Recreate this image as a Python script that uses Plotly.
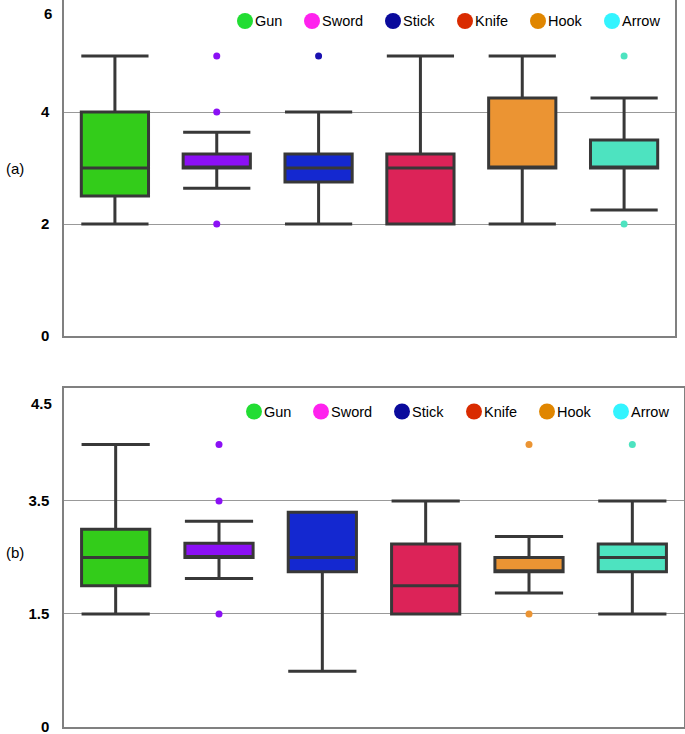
import plotly.graph_objects as go

categories = ["Gun", "Sword", "Stick", "Knife", "Hook", "Arrow"]
box_colors = ["#33CC1A", "#8B10F5", "#1428D0", "#DC2358", "#EB9433", "#4DE3C0"]
point_colors = ["#33CC1A", "#8B10F5", "#1A10B0", "#DC2358", "#EB9433", "#4DE3C0"]
legend_colors = ["#22DD33", "#FF22EE", "#0A0A9C", "#D92B00", "#E08600", "#33F4FF"]

# panel (a)
a_lower = [2.0, 2.64, 2.0, 2.0, 2.0, 2.25]
a_q1 = [2.5, 3.0, 2.75, 2.0, 3.0, 3.0]
a_median = [3.0, 3.0, 3.0, 3.0, 3.0, 3.0]
a_q3 = [4.0, 3.25, 3.25, 3.25, 4.25, 3.5]
a_upper = [5.0, 3.64, 4.0, 5.0, 5.0, 4.25]
a_outliers = [[], [5.0, 4.0, 2.0], [5.0], [], [], [5.0, 2.0]]

# panel (b)
b_lower = [1.5, 1.97, 0.74, 1.5, 1.78, 1.5]
b_q1 = [1.875, 2.25, 2.06, 1.5, 2.06, 2.06]
b_median = [2.25, 2.25, 2.25, 1.875, 2.06, 2.25]
b_q3 = [2.625, 2.44, 2.85, 2.43, 2.25, 2.43]
b_upper = [3.75, 2.73, 2.85, 3.0, 2.53, 3.0]
b_outliers = [[], [3.75, 3.0, 1.5], [], [], [3.75, 1.5], [3.75]]

a_tickvals = [0, 2, 4]
a_ticktext = ["0", "2", "4"]
a_top = 6
b_tickvals = [0, 1.5, 3]
b_ticktext = ["0", "1.5", "3.5"]
b_top = 4.5

W, H = 685, 734
ML, MR, MT, MB = 64, 1, 0, 7
PW, PH = W - ML - MR, H - MT - MB

fig = go.Figure()

panels = [
    ("x", "y", a_lower, a_q1, a_median, a_q3, a_upper, a_outliers),
    ("x2", "y2", b_lower, b_q1, b_median, b_q3, b_upper, b_outliers),
]

for xa, ya, lo, q1, med, q3, up, outs in panels:
    for i, cat in enumerate(categories):
        fig.add_trace(go.Box(
            x=[cat], q1=[q1[i]], median=[med[i]], q3=[q3[i]],
            lowerfence=[lo[i]], upperfence=[up[i]], name=cat,
            fillcolor=box_colors[i], line=dict(color="#383838", width=3),
            whiskerwidth=1, width=0.66, showlegend=False,
            xaxis=xa, yaxis=ya, hoverinfo="skip",
        ))
        if outs[i]:
            fig.add_trace(go.Scatter(
                x=[cat] * len(outs[i]), y=outs[i], mode="markers", name=cat,
                marker=dict(color=point_colors[i], size=7),
                showlegend=False, xaxis=xa, yaxis=ya, hoverinfo="skip",
            ))

tickfont = dict(family="Liberation Sans, Arial", size=15, color="#000", weight="bold")
axis_common = dict(showline=True, mirror=True, linecolor="#808080", linewidth=1.5,
                   showgrid=True, gridcolor="#999999", gridwidth=1, zeroline=False,
                   ticks="", tickfont=tickfont, ticklabelstandoff=10,
                   ticklabeloverflow="allow")
xcommon = dict(showline=True, mirror=True, linecolor="#808080", linewidth=1.5,
               showgrid=False, zeroline=False, showticklabels=False, ticks="",
               type="category", categoryorder="array", categoryarray=categories,
               range=[-0.5, 5.5])

fig.update_layout(
    width=W, height=H,
    margin=dict(l=ML, r=MR, t=MT, b=MB, autoexpand=False),
    paper_bgcolor="white", plot_bgcolor="white",
    xaxis=dict(domain=[0, 0.9855], anchor="y", **xcommon),
    xaxis2=dict(domain=[0, 1], anchor="y2", **xcommon),
    yaxis=dict(domain=[0.5378, 1], anchor="x", range=[0, a_top],
               tickvals=a_tickvals, ticktext=a_ticktext, **axis_common),
    yaxis2=dict(domain=[0, 0.4663], anchor="x2", range=[0, b_top],
                tickvals=b_tickvals, ticktext=b_ticktext, **axis_common),
    showlegend=False,
)

# legend-style keys (circle + label) for each panel
key_marker_px = [245, 312, 393, 465, 538, 612]
key_text_gap = 10
legend_font = dict(family="Liberation Sans, Arial", size=14.5, color="#000")
for row_y, shift in ((21, 0), (411.5, 9)):
    yp = (H - MB - row_y) / PH
    for i, cat in enumerate(categories):
        xp = (key_marker_px[i] + shift - ML) / PW
        fig.add_shape(type="circle", xref="paper", yref="paper",
                      xsizemode="pixel", ysizemode="pixel",
                      xanchor=xp, yanchor=yp, x0=-8, x1=8, y0=-8, y1=8,
                      fillcolor=legend_colors[i], line=dict(width=0))
        fig.add_annotation(text=cat, xref="paper", yref="paper", x=xp, y=yp,
                           xanchor="left", yanchor="middle", xshift=key_text_gap - 2,
                           showarrow=False, font=legend_font)

annot_font = dict(family="Liberation Sans, Arial", size=15, color="#000")
fig.add_annotation(text=str(a_top), xref="paper", x=0, xanchor="right", xshift=-10,
                   yref="y", y=a_top, yanchor="top", yshift=-3, showarrow=False,
                   font=tickfont)
fig.add_annotation(text=str(b_top), xref="paper", x=0, xanchor="right", xshift=-10,
                   yref="y2", y=b_top, yanchor="top", yshift=-5, showarrow=False,
                   font=tickfont)
fig.add_annotation(text="(a)", xref="paper", x=0, xanchor="right", xshift=-38,
                   yref="y domain", y=0.5, yanchor="middle", showarrow=False,
                   font=annot_font)
fig.add_annotation(text="(b)", xref="paper", x=0, xanchor="right", xshift=-38,
                   yref="y2 domain", y=0.5, yanchor="middle", yshift=5, showarrow=False,
                   font=annot_font)

fig.write_html("out.html", config={"displayModeBar": False},
               post_script="document.body.style.margin='0';")
